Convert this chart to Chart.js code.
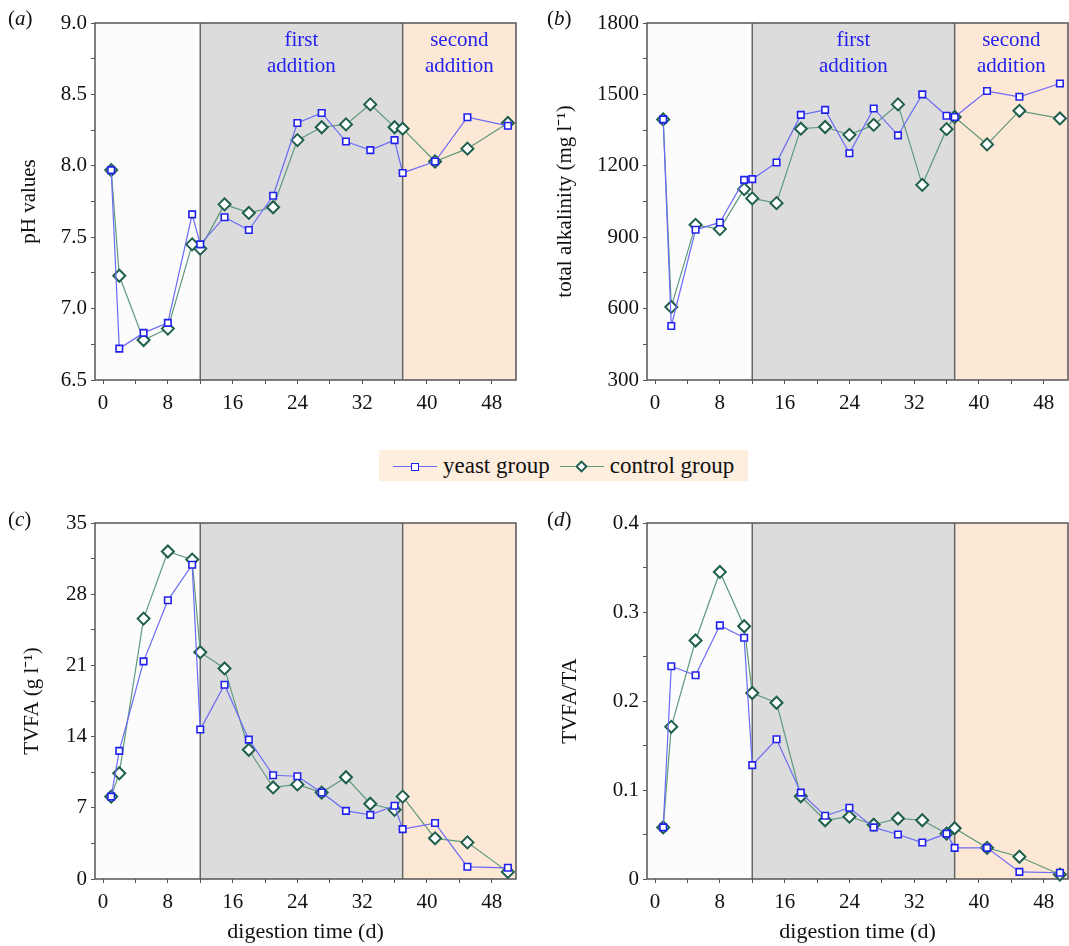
<!DOCTYPE html>
<html>
<head>
<meta charset="utf-8">
<script src="https://cdn.jsdelivr.net/npm/chart.js@4.4.1/dist/chart.umd.min.js"></script>
<style>
  body { margin: 0; background: #fff; font-family: 'Liberation Serif', serif; }
  #wrap { position: relative; width: 1069px; height: 946px; overflow: hidden; }
  .panel { position: absolute; }
  .tag { position: absolute; font-size: 21px; color: #111; }
  .tag i { font-style: italic; }
  #legend {
    position: absolute; left: 379px; top: 450px; width: 369px; height: 31px;
    background: #fdeedd; display: flex; align-items: center; font-size: 23px; color: #111;
  }
  .key { position: relative; display: inline-block; width: 44px; height: 20px; margin: 0 6px 0 14px; }
  .key .ln { position: absolute; left: 0; right: 0; top: 10px; border-top: 1.5px solid; }
  .key .mk { position: absolute; background: #fff; box-sizing: border-box; }
</style>
</head>
<body>
<div id="wrap">
  <canvas id="chartA" class="panel" style="left:0;top:0" width="534" height="420"></canvas>
  <canvas id="chartB" class="panel" style="left:548px;top:0" width="521" height="420"></canvas>
  <canvas id="chartC" class="panel" style="left:0;top:500px" width="534" height="446"></canvas>
  <canvas id="chartD" class="panel" style="left:548px;top:500px" width="521" height="446"></canvas>
  <div class="tag" style="left:8px;top:6px">(<i>a</i>)</div>
  <div class="tag" style="left:547px;top:6px">(<i>b</i>)</div>
  <div class="tag" style="left:8px;top:507px">(<i>c</i>)</div>
  <div class="tag" style="left:547px;top:507px">(<i>d</i>)</div>
  <div id="legend">
    <span class="key"><span class="ln" style="border-color:#6a6af5"></span><span class="mk" style="left:18px;top:7px;width:8px;height:8px;border:1.6px solid #2222ee"></span></span>yeast group
    <span class="key" style="margin-left:10px"><span class="ln" style="border-color:#5f9a7a"></span><span class="mk" style="left:17px;top:6px;width:9px;height:9px;border:2px solid #1e5e4e;transform:rotate(45deg)"></span></span>control group
  </div>
</div>
<script>
// sampling days (d)
const days = [1, 2, 5, 8, 11, 12, 15, 18, 21, 24, 27, 30, 33, 36, 37, 41, 45, 50];

// (a) pH
const phYeast   = [7.97, 6.72, 6.83, 6.90, 7.66, 7.45, 7.64, 7.55, 7.79, 8.30, 8.37, 8.17, 8.11, 8.18, 7.95, 8.03, 8.34, 8.28];
const phControl = [7.97, 7.23, 6.78, 6.86, 7.45, 7.42, 7.73, 7.67, 7.71, 8.18, 8.27, 8.29, 8.43, 8.27, 8.26, 8.03, 8.12, 8.30];

// (b) total alkalinity, mg/l
const taYeast   = [1395, 527, 931, 962, 1141, 1144, 1214, 1414, 1435, 1253, 1441, 1328, 1500, 1410, 1405, 1514, 1490, 1546];
const taControl = [1395, 607, 952, 934, 1102, 1063, 1043, 1356, 1363, 1330, 1372, 1458, 1120, 1354, 1405, 1290, 1431, 1399];

// (c) TVFA, g/l
const vfaYeast   = [8.1, 12.6, 21.4, 27.4, 30.9, 14.7, 19.1, 13.7, 10.2, 10.1, 8.5, 6.7, 6.3, 7.2, 4.9, 5.5, 1.2, 1.1];
const vfaControl = [8.1, 10.4, 25.6, 32.2, 31.4, 22.3, 20.7, 12.7, 9.0, 9.3, 8.5, 10.0, 7.4, 6.8, 8.1, 4.0, 3.6, 0.7];

// (d) TVFA/TA
const ratioYeast   = [0.058, 0.239, 0.229, 0.285, 0.271, 0.128, 0.157, 0.097, 0.071, 0.080, 0.058, 0.050, 0.041, 0.051, 0.035, 0.035, 0.008, 0.007];
const ratioControl = [0.058, 0.171, 0.268, 0.345, 0.284, 0.209, 0.198, 0.093, 0.066, 0.070, 0.061, 0.068, 0.066, 0.051, 0.057, 0.035, 0.025, 0.005];

// addition periods (days)
const firstAddition = [12, 37];
const secondAddition = [37, 51];
const xTicks = [0, 4, 8, 12, 16, 20, 24, 28, 32, 36, 40, 44, 48];

const serif = 'Liberation Serif';
const pts = (ys) => days.map((d, i) => ({ x: d, y: ys[i] }));

const periodPlugin = {
  id: 'periods',
  beforeDatasetsDraw(chart, args, opts) {
    const { ctx, chartArea: a, scales: { x } } = chart;
    const x1 = x.getPixelForValue(firstAddition[0]);
    const x2 = x.getPixelForValue(firstAddition[1]);
    const x3 = x.getPixelForValue(secondAddition[1]);
    ctx.save();
    ctx.fillStyle = '#fcfcfc';
    ctx.fillRect(a.left, a.top, x1 - a.left, a.height);
    ctx.fillStyle = '#dcdcdc';
    ctx.fillRect(x1, a.top, x2 - x1, a.height);
    ctx.fillStyle = '#fde8d5';
    ctx.fillRect(x2, a.top, Math.min(x3, a.right) - x2, a.height);
    ctx.strokeStyle = '#666';
    ctx.lineWidth = 1.5;
    ctx.beginPath();
    ctx.moveTo(x1, a.top); ctx.lineTo(x1, a.bottom);
    ctx.moveTo(x2, a.top); ctx.lineTo(x2, a.bottom);
    ctx.stroke();
    ctx.strokeStyle = '#555';
    ctx.strokeRect(a.left, a.top, a.width, a.height);
    if (opts.labels) {
      ctx.fillStyle = '#2222ee';
      ctx.font = '21px "' + serif + '"';
      ctx.textAlign = 'center';
      ctx.textBaseline = 'middle';
      const c1 = x.getPixelForValue((firstAddition[0] + firstAddition[1]) / 2);
      const c2 = x.getPixelForValue((secondAddition[0] + secondAddition[1]) / 2);
      ctx.fillText('first', c1, a.top + 17);
      ctx.fillText('addition', c1, a.top + 43);
      ctx.fillText('second', c2, a.top + 17);
      ctx.fillText('addition', c2, a.top + 43);
    }
    ctx.restore();
  },
};

function makePanel(id, yeast, control, y) {
  return new Chart(document.getElementById(id), {
    type: 'line',
    data: {
      datasets: [
        {
          label: 'yeast group',
          data: pts(yeast),
          borderColor: '#6a6af5',
          borderWidth: 1.2,
          pointStyle: 'rect',
          pointRadius: 4.6,
          pointBorderWidth: 1.6,
          pointBorderColor: '#2222ee',
          pointBackgroundColor: '#ffffff',
          tension: 0,
          clip: false,
        },
        {
          label: 'control group',
          data: pts(control),
          borderColor: '#5f9a7a',
          borderWidth: 1.2,
          pointStyle: 'rectRot',
          pointRadius: 6,
          pointBorderWidth: 2,
          pointBorderColor: '#1e5e4e',
          pointBackgroundColor: '#ffffff',
          tension: 0,
          clip: false,
        },
      ],
    },
    options: {
      responsive: false,
      animation: false,
      layout: { autoPadding: false, padding: { top: 23, right: y.right, left: 0, bottom: 0 } },
      plugins: {
        legend: { display: false },
        tooltip: { enabled: false },
        periods: { labels: y.labels },
      },
      scales: {
        x: {
          type: 'linear',
          min: -1,
          max: 51,
          afterBuildTicks: (s) => { s.ticks = xTicks.map((v) => ({ value: v })); },
          afterFit: (s) => { s.height = y.xHeight; s.paddingLeft = 0; s.paddingRight = 0; },
          border: { display: false },
          grid: { drawOnChartArea: false, tickLength: 4, color: '#555' },
          ticks: {
            autoSkip: false,
            maxRotation: 0,
            padding: 7,
            color: '#111',
            font: { family: serif, size: 21 },
            callback: (v) => (v % 8 === 0 ? String(v) : ''),
          },
          title: {
            display: !!y.xTitle,
            text: y.xTitle || '',
            color: '#111',
            font: { family: serif, size: 22 },
            padding: { top: 0, bottom: 1 },
          },
        },
        y: {
          min: y.min,
          max: y.max,
          afterFit: (s) => { s.width = y.width; },
          border: { display: false },
          grid: { drawOnChartArea: false, tickLength: 4, color: '#555' },
          ticks: {
            stepSize: y.step,
            autoSkip: false,
            padding: 4,
            color: '#111',
            font: { family: serif, size: 21 },
            callback: y.fmt,
          },
          title: {
            display: true,
            text: y.title,
            color: '#111',
            font: { family: serif, size: 21 },
            padding: { top: y.titlePad, bottom: 0 },
          },
        },
      },
    },
    plugins: [periodPlugin],
  });
}

const on = (v, k) => Math.abs(v / k - Math.round(v / k)) < 1e-6;

makePanel('chartA', phYeast, phControl, {
  min: 6.5, max: 9.0, step: 0.25, width: 95, right: 18, xHeight: 40,
  title: 'pH values', titlePad: 17, labels: true,
  fmt: (v) => (on(v, 0.5) ? v.toFixed(1) : ''),
});
makePanel('chartB', taYeast, taControl, {
  min: 300, max: 1800, step: 150, width: 99, right: 1, xHeight: 40,
  title: 'total alkalinity (mg l\u207B\u00B9)', titlePad: 5, labels: true,
  fmt: (v) => (on(v, 300) ? String(v) : ''),
});
makePanel('chartC', vfaYeast, vfaControl, {
  min: 0, max: 35, step: 3.5, width: 95, right: 18, xHeight: 67,
  title: 'TVFA (g l\u207B\u00B9)', titlePad: 20, labels: false,
  xTitle: 'digestion time (d)',
  fmt: (v) => (on(v, 7) ? String(Math.round(v)) : ''),
});
makePanel('chartD', ratioYeast, ratioControl, {
  min: 0, max: 0.4, step: 0.05, width: 99, right: 1, xHeight: 67,
  title: 'TVFA/TA', titlePad: 10, labels: false,
  xTitle: 'digestion time (d)',
  fmt: (v) => (on(v, 0.1) ? (Math.round(v * 10) / 10).toString() : ''),
});
</script>
</body>
</html>
